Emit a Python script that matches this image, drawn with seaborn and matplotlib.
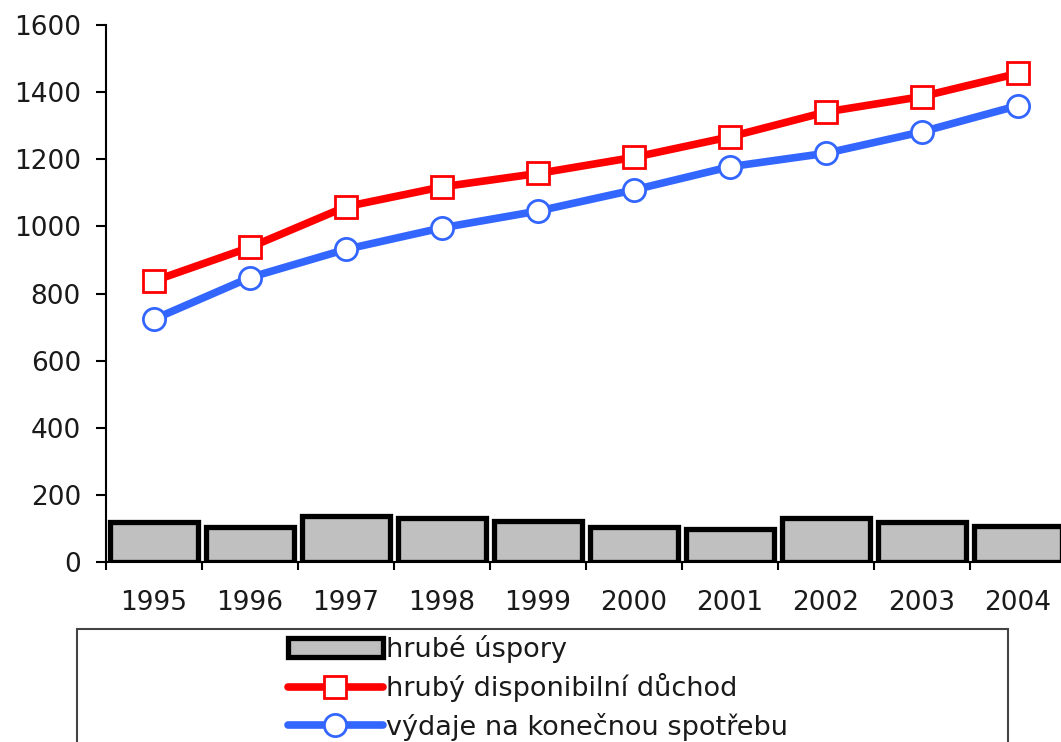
import pandas as pd
import matplotlib.pyplot as plt
import matplotlib.patches as mpatches
from matplotlib.ticker import FixedLocator
import seaborn as sns

# data
years = ['1995', '1996', '1997', '1998', '1999', '2000', '2001', '2002', '2003', '2004']
savings = [121, 105, 139, 133, 122, 104, 98, 133, 120, 107]
disposable_income = [838, 938, 1059, 1118, 1158, 1206, 1267, 1341, 1387, 1456]
consumption = [724, 848, 932, 996, 1046, 1109, 1178, 1218, 1282, 1360]

label_savings = 'hrubé úspory'
label_income = 'hrubý disponibilní důchod'
label_consumption = 'výdaje na konečnou spotřebu'

df = pd.DataFrame({'rok': years, 'uspory': savings,
                   'duchod': disposable_income, 'vydaje': consumption})

sns.set_style('white')
plt.rcParams['font.family'] = ['DejaVu Sans']

fig = plt.figure(figsize=(10.61, 7.42), dpi=100)
ax = fig.add_axes([0.0999, 0.2422, 0.9048, 0.7241])

sns.barplot(data=df, x='rok', y='uspory', color='#c0c0c0', saturation=1,
            edgecolor='black', linewidth=3.8, width=0.92, label=label_savings, ax=ax)

sns.pointplot(data=df, x='rok', y='duchod', color='#ff0000', markers='s',
              linestyles='-', markersize=16, markerfacecolor='white',
              markeredgewidth=2, linewidth=5.5, label=label_income, ax=ax)
sns.pointplot(data=df, x='rok', y='vydaje', color='#3366ff', markers='o',
              linestyles='-', markersize=16, markerfacecolor='white',
              markeredgewidth=2, linewidth=5.5, label=label_consumption, ax=ax)

ax.set_xlim(-0.5, 9.5)
ax.set_ylim(0, 1600)
ax.set_yticks(range(0, 1601, 200))
ax.set_xlabel('')
ax.set_ylabel('')

for side in ['top', 'right']:
    ax.spines[side].set_visible(False)
for side in ['left', 'bottom']:
    ax.spines[side].set_color('black')
    ax.spines[side].set_linewidth(1.5)
ax.spines['bottom'].set_clip_on(False)

ax.tick_params(axis='y', direction='out', length=7, width=1.5, color='black',
               pad=11, labelsize=19, labelcolor='#1a1a1a', left=True)
ax.xaxis.set_minor_locator(FixedLocator([i - 0.5 for i in range(len(years) + 1)]))
ax.tick_params(axis='x', which='major', length=0, pad=20, labelsize=19,
               labelcolor='#1a1a1a')
ax.tick_params(axis='x', which='minor', direction='out', length=6, width=1.5,
               color='black', bottom=True)

# legend box, open at the bottom edge like the reference
box = mpatches.Rectangle((0.0726, -0.03), 0.8775, 0.182, transform=fig.transFigure,
                         facecolor='none', edgecolor='#444444', linewidth=1.5,
                         clip_on=False)
fig.patches.append(box)

handles, labels = ax.get_legend_handles_labels()
if ax.get_legend() is not None:
    ax.get_legend().remove()
order = [labels.index(label_savings), labels.index(label_income),
         labels.index(label_consumption)]
fig.legend([handles[i] for i in order], [labels[i] for i in order],
           loc='upper left', bbox_to_anchor=(288 / 1061, 1 - 635 / 742),
           frameon=False, fontsize=19.5, handlelength=3.5, handleheight=0.68,
           handletextpad=0.12, labelspacing=0.38, borderpad=0, borderaxespad=0,
           labelcolor='#1a1a1a')

fig.savefig('out.png', dpi=100)
plt.close(fig)
